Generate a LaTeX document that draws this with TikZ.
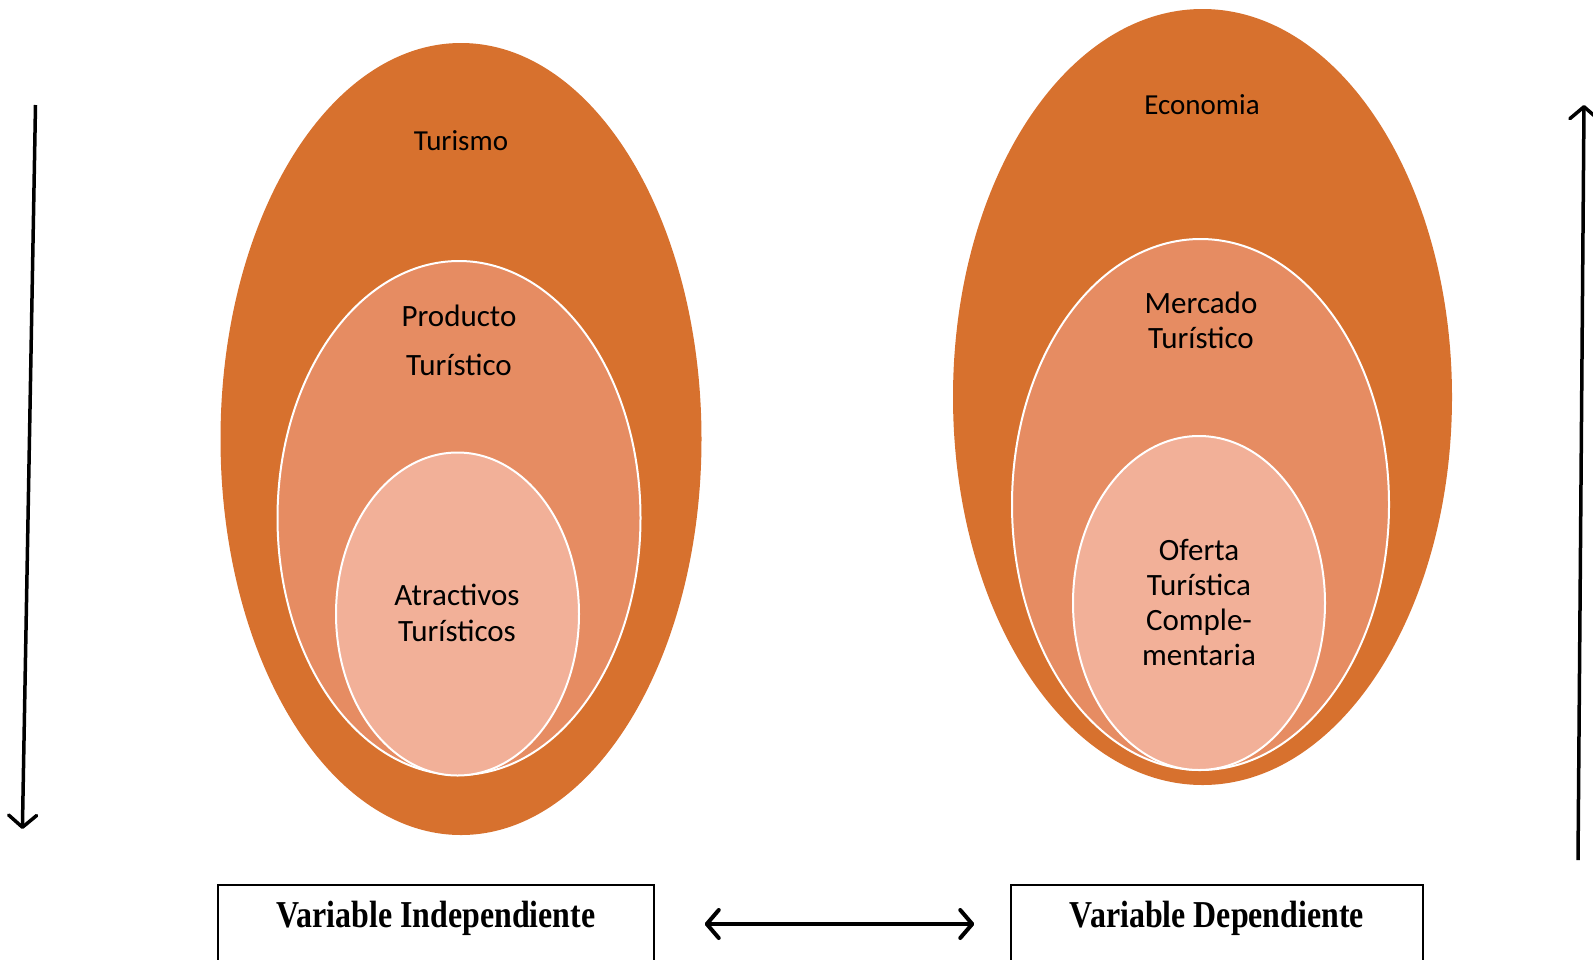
\documentclass[tikz,border=0pt]{standalone}
\usepackage{fontspec}
\setmainfont{Carlito}
\newfontfamily\boxfont{Liberation Serif}
\usetikzlibrary{shapes.geometric, arrows.meta}
\definecolor{outerorange}{HTML}{D7712E}
\definecolor{midorange}{HTML}{E68C62}
\definecolor{innerorange}{HTML}{F2B098}

\begin{document}
\begin{tikzpicture}[x=1pt,y=-1pt,>={Straight Barb[length=12pt,width=28pt,round]},
    outer/.style={ellipse,fill=outerorange,inner sep=0pt},
    ring/.style={ellipse,draw=white,line width=2pt,inner sep=0pt},
    lbl/.style={align=center,inner sep=0pt,font=\fontsize{31}{35.5}\selectfont},
    toplbl/.style={inner sep=0pt,font=\fontsize{29}{35}\selectfont},
    varbox/.style={draw,line width=1.5pt,anchor=north,minimum width=#1,inner ysep=0pt,
        text height=42.5pt,text depth=36pt,font=\boxfont\bfseries\fontsize{38}{40}\selectfont}]
        \useasboundingbox (0,0) rectangle (1593,959);

        % draw the left ellipses
        \node[outer,minimum width=481pt,minimum height=792pt] (turismo) at (461,439) {};
        \node[ring,fill=midorange,minimum width=363pt,minimum height=514pt] (producto) at (459,518) {};
        \node[ring,fill=innerorange,minimum width=243pt,minimum height=323pt] (atractivos) at (457.5,614) {};

        % draw the right ellipses
        \node[outer,minimum width=499pt,minimum height=776pt] (economia) at (1202.5,397) {};
        \node[ring,fill=midorange,minimum width=377pt,minimum height=531pt] (mercado) at (1200.5,504.5) {};
        \node[ring,fill=innerorange,minimum width=252pt,minimum height=334pt] (oferta) at (1199,603) {};

        % the texts inside
        \node[toplbl] (turismotxt) at (461,141) {Turismo};
        \node[lbl] (productotxt) at (459,340.5) {Producto\\[13.5pt]Turístico};
        \node[lbl] (atractivostxt) at (457,613) {Atractivos\\Turísticos};
        \node[toplbl] (economiatxt) at (1202,105) {Economia};
        \node[lbl] (mercadotxt) at (1201,320.5) {Mercado\\Turístico};
        \node[lbl,font=\fontsize{31}{35}\selectfont] (ofertatxt) at (1199,602.5) {Oferta\\Turística\\Comple-\\mentaria};

        % the variable boxes
        \node[varbox=436pt] (vi) at (436,884) {\scalebox{0.84}[1]{Variable Independiente}};
        \node[varbox=412pt] (vd) at (1217,884) {\scalebox{0.84}[1]{Variable Dependiente}};
        \draw[<->,line width=4pt,shorten <=50pt,shorten >=36pt] (vi) -- (vd);

        % the vertical arrows
        \coordinate (ltop) at (35.5,105);
        \coordinate (lbot) at (22.4,829);
        \coordinate (rbot) at (1578,860);
        \coordinate (rtop) at (1584,105);
        \draw[->,line width=3.5pt] (ltop) -- (lbot);
        \draw[->,line width=3.5pt] (rbot) -- (rtop);
\end{tikzpicture}
\end{document}
